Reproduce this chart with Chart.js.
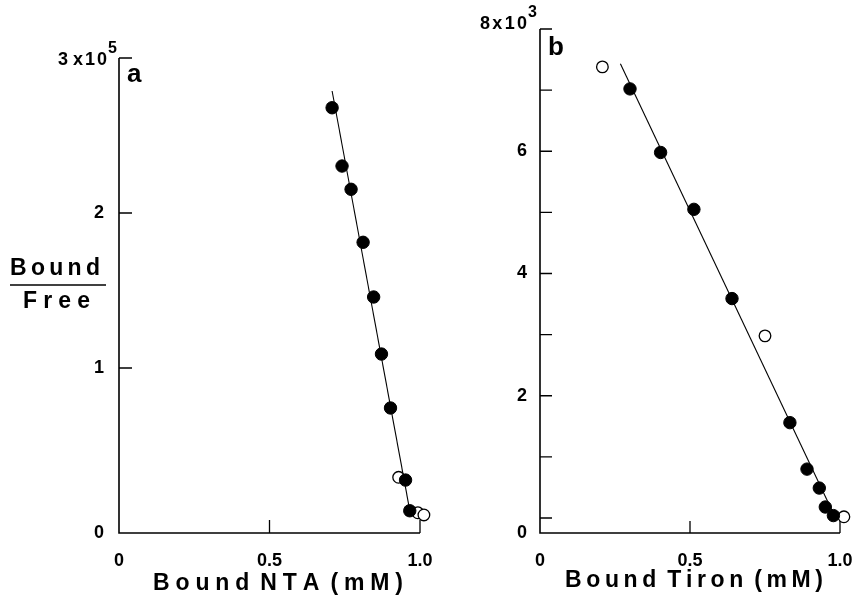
<!DOCTYPE html>
<html>
<head>
<meta charset="utf-8">
<script src="https://cdn.jsdelivr.net/npm/chart.js@4.4.1/dist/chart.umd.min.js"></script>
<style>
  html, body { margin: 0; padding: 0; background: #fff; }
  #wrap { position: relative; width: 857px; height: 601px; overflow: hidden; background: #fff; }
  canvas { position: absolute; top: 0; }
  #panelA { left: 0; }
  #panelB { left: 430px; }
</style>
</head>
<body>
<div id="wrap">
  <canvas id="panelA" width="450" height="601"></canvas>
  <canvas id="panelB" width="427" height="601"></canvas>
</div>
<script>
// ---- Panel a: NTA (Bound/Free in units of 10^5) ----
const ntaFilledX = [0.708, 0.741, 0.771, 0.811, 0.846, 0.872, 0.902, 0.952, 0.966];
const ntaFilledY = [2.679, 2.303, 2.153, 1.811, 1.458, 1.090, 0.742, 0.277, 0.079];
const ntaOpenX   = [0.929, 0.993, 1.013];
const ntaOpenY   = [0.295, 0.066, 0.052];
const ntaFitX    = [0.708, 0.968];
const ntaFitY    = [2.787, 0.060];
const ntaYTicks  = [0, 1, 2, 3];
const ntaYLabels = ['', '1', '2', ''];

// ---- Panel b: Tiron (Bound/Free in units of 10^3) ----
const tironFilledX = [0.300, 0.402, 0.513, 0.640, 0.833, 0.890, 0.931, 0.951, 0.978];
const tironFilledY = [7.02, 5.98, 5.05, 3.59, 1.56, 0.80, 0.49, 0.18, 0.04];
const tironOpenX   = [0.208, 0.750, 1.013];
const tironOpenY   = [7.38, 2.98, 0.02];
const tironFitX    = [0.268, 0.985];
const tironFitY    = [7.43, 0.00];
const tironYTicks  = [0, 1, 2, 3, 4, 5, 6, 7, 8];
const tironYLabels = ['', '', '2', '', '4', '', '6', '', ''];

// ---- shared x axis ----
const xTicks      = [0, 0.5, 1];
const xTickLabels = ['0', '0.5', '1.0'];

const FONT = "'Liberation Sans', Arial, Helvetica, sans-serif";
const INK = '#000';

function pts(xs, ys) { return xs.map((x, i) => ({ x: x, y: ys[i] })); }

// Text drawn letter by letter: letters spread evenly so the whole string
// spans `width` px starting at `x0`; each space becomes a fixed gap.
function drawSpaced(ctx, text, font, x0, baseline, width, wordGap) {
  ctx.save();
  ctx.font = font;
  ctx.textAlign = 'left';
  ctx.textBaseline = 'alphabetic';
  const words = text.split(' ');
  let glyphs = 0, gaps = 0;
  words.forEach(w => {
    for (const ch of w) glyphs += ctx.measureText(ch).width;
    gaps += Math.max(0, Array.from(w).length - 1);
  });
  const sp = gaps > 0 ? (width - glyphs - wordGap * (words.length - 1)) / gaps : 0;
  let x = x0;
  words.forEach((w, wi) => {
    const chars = Array.from(w);
    chars.forEach((ch, ci) => {
      ctx.fillText(ch, x, baseline);
      x += ctx.measureText(ch).width + (ci < chars.length - 1 ? sp : 0);
    });
    if (wi < words.length - 1) x += wordGap;
  });
  ctx.restore();
}

// Draws the axis frame, inward tick marks, the origin/top labels,
// the panel letter and the axis titles.
const decorPlugin = {
  id: 'decor',
  afterDraw(chart, args, opts) {
    const ctx = chart.ctx;
    const xs = chart.scales.x, ys = chart.scales.y;
    const left = xs.left, right = xs.right, base = ys.bottom;
    const yTop = ys.getPixelForValue(ys.max);
    ctx.save();
    ctx.strokeStyle = INK;
    ctx.fillStyle = INK;
    ctx.lineWidth = 1.6;
    ctx.lineCap = 'butt';
    // axis lines
    ctx.beginPath();
    ctx.moveTo(left, yTop);
    ctx.lineTo(left, base);
    ctx.moveTo(left - 0.8, base);
    ctx.lineTo(right, base);
    ctx.stroke();
    // y tick marks (pointing inward)
    ctx.lineWidth = 1.3;
    ctx.beginPath();
    opts.yTickMarks.forEach(v => {
      const p = ys.getPixelForValue(v);
      ctx.moveTo(left, p);
      ctx.lineTo(left + opts.tickLen, p);
    });
    // x tick marks (pointing up)
    [0.5, 1].forEach(v => {
      const p = xs.getPixelForValue(v);
      ctx.moveTo(p, base);
      ctx.lineTo(p, base - opts.tickLen);
    });
    ctx.stroke();

    // origin "0"
    ctx.font = 'bold 18px ' + FONT;
    ctx.textAlign = 'right';
    ctx.textBaseline = 'middle';
    ctx.fillText('0', left - opts.yLabelPad, base);

    // top label with exponent
    const t = opts.top;
    drawSpaced(ctx, t.text, 'bold 18px ' + FONT, left - t.padR - t.width, yTop + t.dy, t.width, t.wordGap);
    ctx.font = 'bold 16px ' + FONT;
    ctx.textAlign = 'left';
    ctx.textBaseline = 'alphabetic';
    ctx.fillText(t.exp, left - t.padR + 1, yTop + t.dy - 12);

    // panel letter
    ctx.font = 'bold 26px ' + FONT;
    ctx.fillText(opts.letter, left + opts.letterDx, yTop + opts.letterDy);

    // x axis title
    const xt = opts.xTitle;
    drawSpaced(ctx, xt.text, 'bold 23px ' + FONT, xt.x0, xt.base, xt.width, xt.wordGap);

    // y axis title as a fraction
    if (opts.fraction) {
      const f = opts.fraction;
      drawSpaced(ctx, 'Bound', 'bold 23px ' + FONT, f.topX0, f.topBase, f.topWidth, 0);
      drawSpaced(ctx, 'Free', 'bold 23px ' + FONT, f.botX0, f.botBase, f.botWidth, 0);
      ctx.lineWidth = 1.6;
      ctx.beginPath();
      ctx.moveTo(f.barX0, f.barY);
      ctx.lineTo(f.barX1, f.barY);
      ctx.stroke();
    }
    ctx.restore();
  }
};

function makePanel(canvasId, d) {
  return new Chart(document.getElementById(canvasId), {
    type: 'scatter',
    data: {
      datasets: [
        {
          data: pts(d.filledX, d.filledY),
          backgroundColor: INK, borderColor: INK, borderWidth: 1,
          pointRadius: 6.2, pointHoverRadius: 6.2, order: 1, clip: false
        },
        {
          data: pts(d.openX, d.openY),
          backgroundColor: '#fff', borderColor: INK, borderWidth: 1.3,
          pointRadius: 5.8, pointHoverRadius: 5.8, order: 2, clip: false
        },
        {
          data: pts(d.fitX, d.fitY),
          showLine: true, borderColor: INK, borderWidth: 1.1,
          pointRadius: 0, pointHoverRadius: 0, fill: false, order: 3, clip: false
        }
      ]
    },
    options: {
      responsive: false,
      animation: false,
      events: [],
      layout: { padding: d.padding },
      plugins: { legend: { display: false }, tooltip: { enabled: false }, decor: d.decor },
      scales: {
        x: {
          type: 'linear', min: 0, max: 1,
          afterBuildTicks: s => { s.ticks = xTicks.map(v => ({ value: v })); },
          afterFit: s => { s.height = d.xAxisHeight; s.paddingLeft = 0; s.paddingRight = 0; },
          grid: { display: false, drawTicks: false },
          border: { display: false },
          ticks: {
            padding: 17, color: INK, maxRotation: 0, autoSkip: false,
            font: { family: FONT, size: 18, weight: 'bold' },
            callback: v => xTickLabels[xTicks.indexOf(v)]
          }
        },
        y: {
          type: 'linear', min: d.yMin, max: d.yMax,
          afterBuildTicks: s => { s.ticks = d.yTicks.map(v => ({ value: v })); },
          afterFit: s => { s.width = d.yAxisWidth; s.paddingTop = 0; s.paddingBottom = 0; },
          grid: { display: false, drawTicks: false },
          border: { display: false },
          ticks: {
            padding: d.decor.yLabelPad, color: INK, autoSkip: false,
            font: { family: FONT, size: 18, weight: 'bold' },
            callback: v => d.yLabels[d.yTicks.indexOf(v)]
          }
        }
      }
    },
    plugins: [decorPlugin]
  });
}

makePanel('panelA', {
  filledX: ntaFilledX, filledY: ntaFilledY,
  openX: ntaOpenX, openY: ntaOpenY,
  fitX: ntaFitX, fitY: ntaFitY,
  yTicks: ntaYTicks, yLabels: ntaYLabels,
  yMin: -0.0645, yMax: 3,
  padding: { left: 0, right: 30, top: 58, bottom: 0 },
  yAxisWidth: 119, xAxisHeight: 68,
  decor: {
    yTickMarks: [1, 2, 3], tickLen: 13, yLabelPad: 15,
    top: { text: '3 x10', exp: '5', padR: 12, width: 49, wordGap: 5, dy: 7 },
    letter: 'a', letterDx: 8, letterDy: 24,
    xTitle: { text: 'Bound NTA (mM)', x0: 153, base: 590, width: 250, wordGap: 11 },
    fraction: { topX0: 10, topBase: 275, topWidth: 90, botX0: 23, botBase: 308, botWidth: 67,
                barX0: 10, barX1: 106, barY: 285 }
  }
});

makePanel('panelB', {
  filledX: tironFilledX, filledY: tironFilledY,
  openX: tironOpenX, openY: tironOpenY,
  fitX: tironFitX, fitY: tironFitY,
  yTicks: tironYTicks, yLabels: tironYLabels,
  yMin: -0.245, yMax: 8,
  padding: { left: 0, right: 17, top: 29, bottom: 0 },
  yAxisWidth: 110, xAxisHeight: 68,
  decor: {
    yTickMarks: [0, 1, 2, 3, 4, 5, 6, 7, 8], tickLen: 12, yLabelPad: 13,
    top: { text: '8x10', exp: '3', padR: 13, width: 47, wordGap: 0, dy: 0 },
    letter: 'b', letterDx: 8, letterDy: 26,
    xTitle: { text: 'Bound Tiron (mM)', x0: 565 - 430, base: 587, width: 258, wordGap: 11 },
    fraction: null
  }
});
</script>
</body>
</html>
